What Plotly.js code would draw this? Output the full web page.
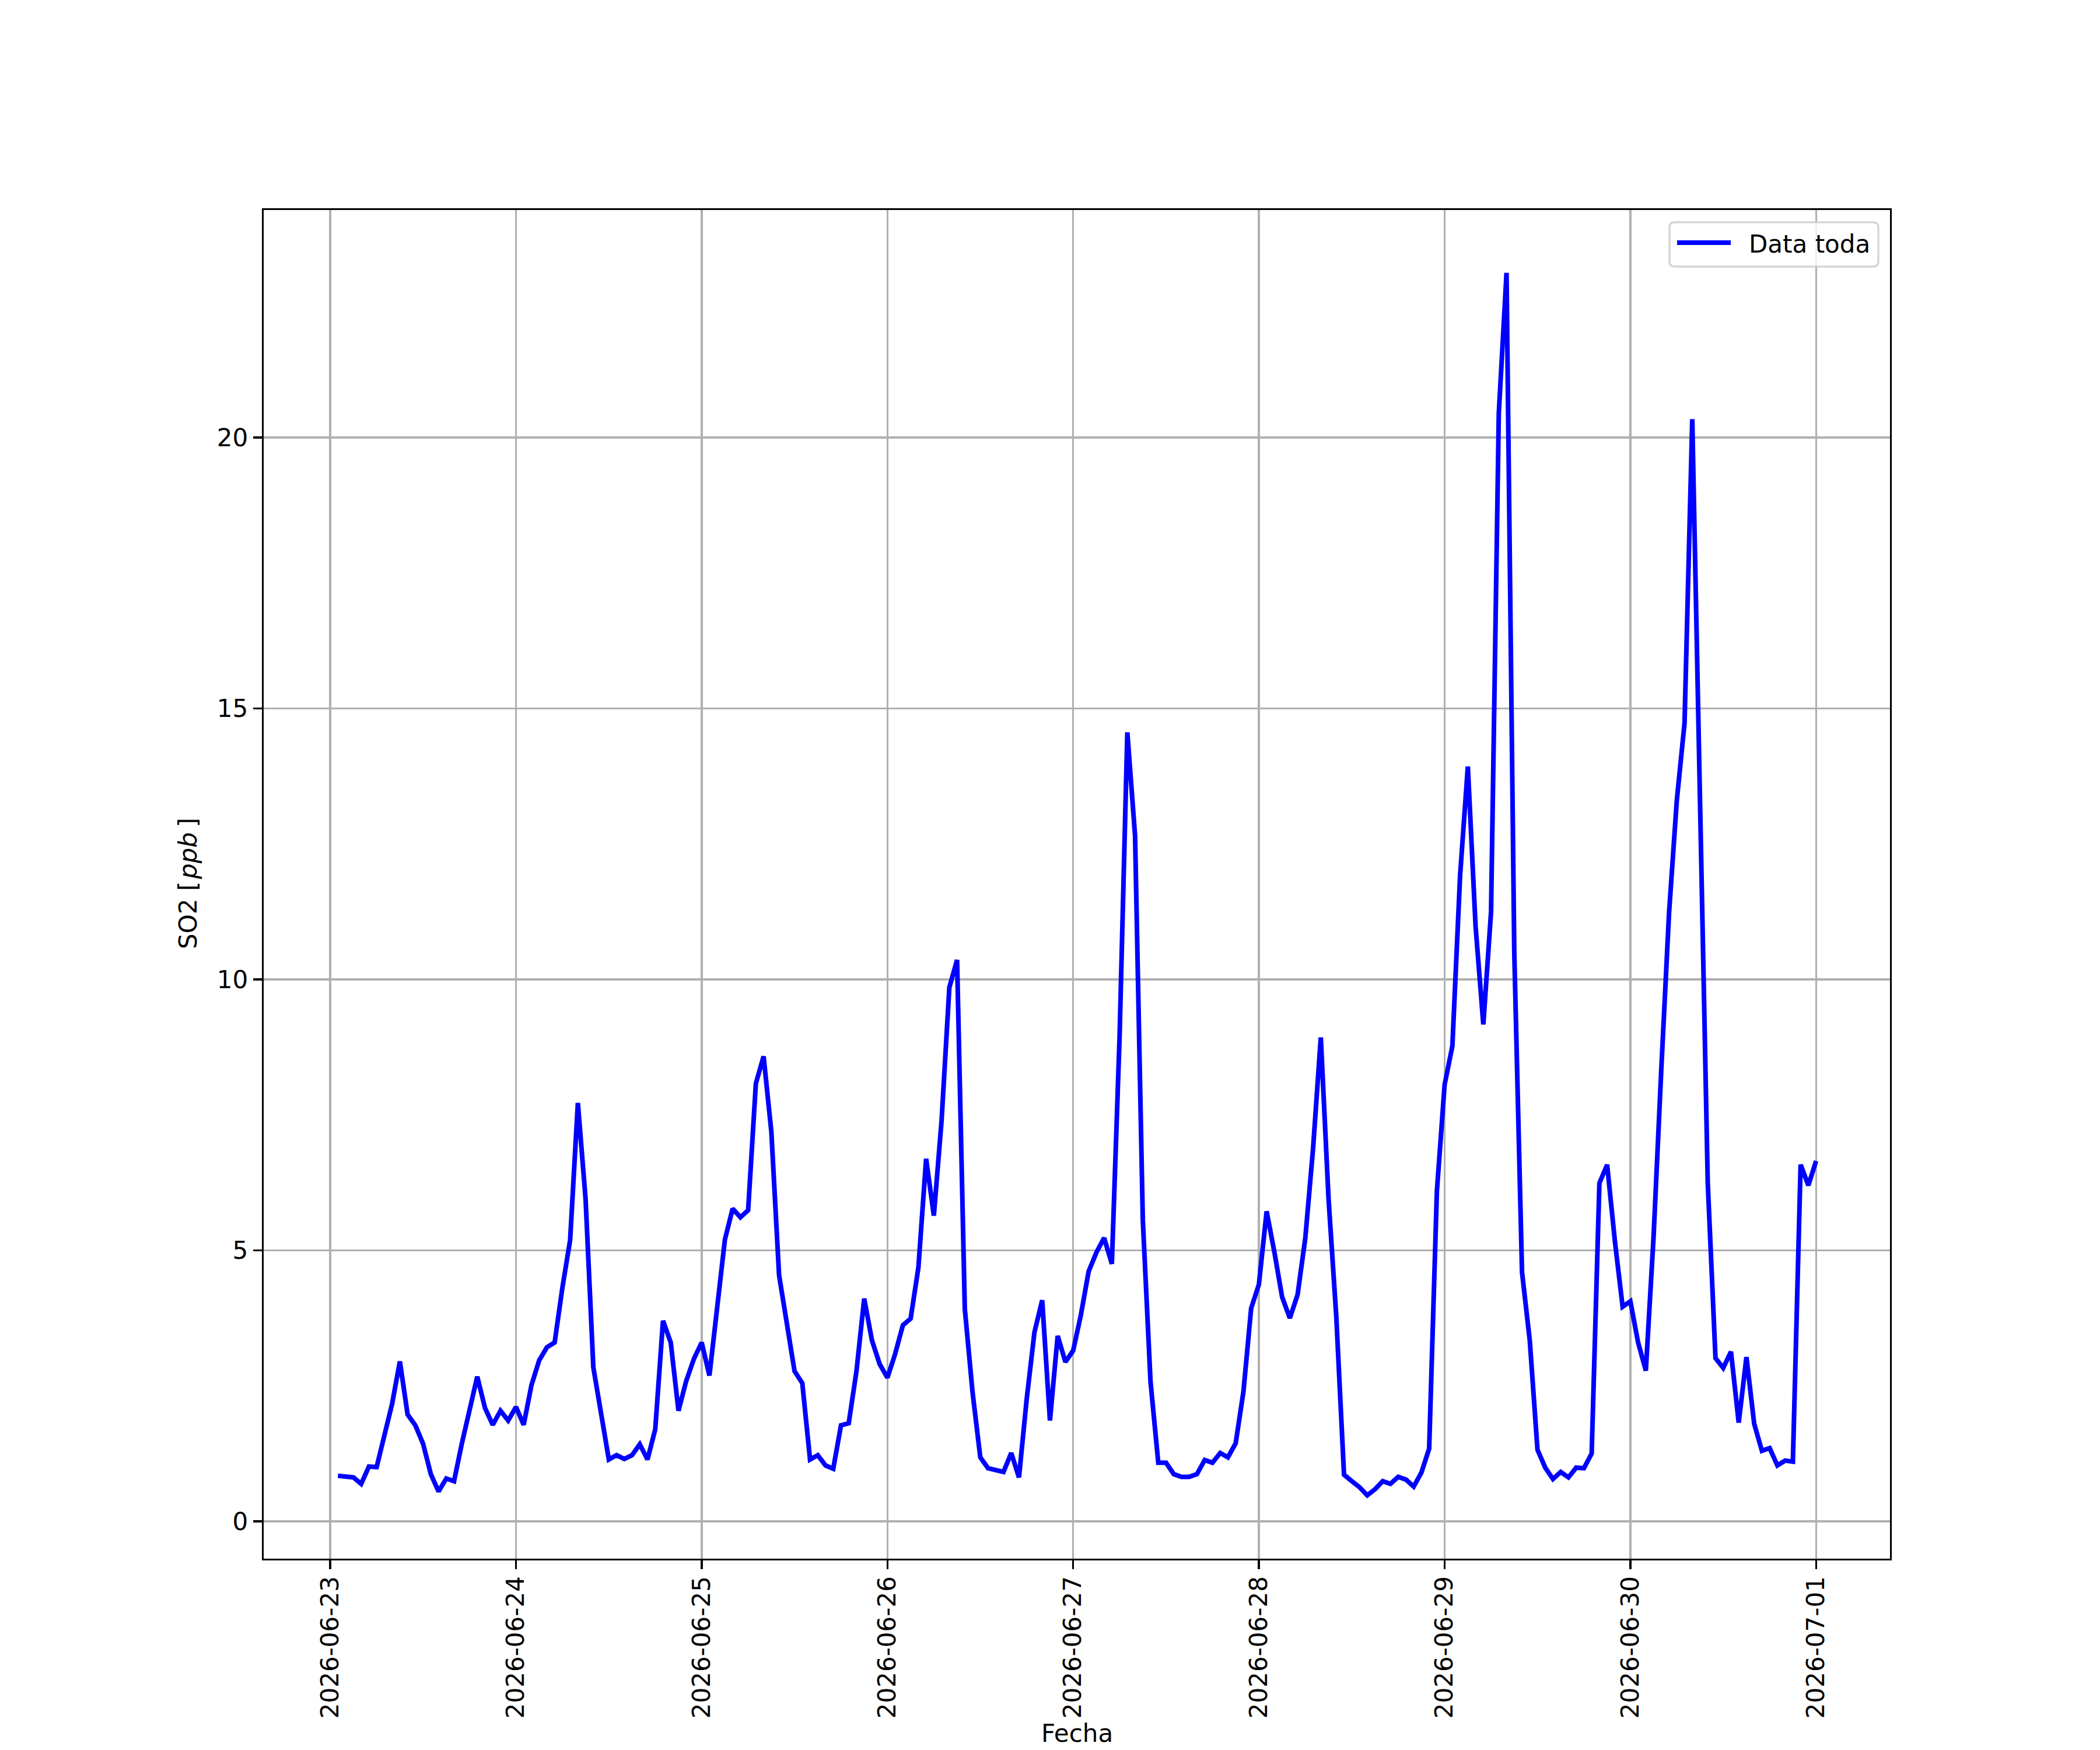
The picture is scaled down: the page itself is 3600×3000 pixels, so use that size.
<!DOCTYPE html>
<html>
<head>
<meta charset="utf-8">
<script src="https://cdn.plot.ly/plotly-3.0.1.min.js"></script>
<style>
  body { margin: 0; background: #fff; }
  #graph { width: 3600px; height: 3000px; }
</style>
</head>
<body>
<div id="graph"></div>
<script>
// hourly SO2 readings, 01:00 of each day through 00:00 of the next
const so2_0623 = [0.84, 0.82, 0.81, 0.69, 1.01, 1.0, 1.6, 2.17, 2.95, 1.97, 1.77, 1.43,
  0.87, 0.55, 0.79, 0.74, 1.43, 2.07, 2.67, 2.09, 1.78, 2.04, 1.86, 2.11];
const so2_0624 = [1.78, 2.51, 2.97, 3.21, 3.30, 4.31, 5.19, 7.72, 5.94, 2.84, 2.01, 1.14,
  1.22, 1.15, 1.22, 1.42, 1.14, 1.70, 3.70, 3.30, 2.04, 2.59, 3.00, 3.30];
const so2_0625 = [2.69, 3.97, 5.20, 5.77, 5.61, 5.74, 8.08, 8.58, 7.19, 4.54, 3.62, 2.77,
  2.55, 1.14, 1.22, 1.03, 0.97, 1.77, 1.81, 2.77, 4.11, 3.34, 2.90, 2.65];
const so2_0626 = [3.09, 3.62, 3.74, 4.68, 6.69, 5.64, 7.40, 9.85, 10.36, 3.92, 2.38, 1.18,
  0.98, 0.94, 0.91, 1.26, 0.81, 2.26, 3.49, 4.08, 1.86, 3.42, 2.94, 3.15];
const so2_0627 = [3.81, 4.61, 4.96, 5.23, 4.75, 8.95, 14.56, 12.65, 5.56, 2.57, 1.08, 1.08,
  0.87, 0.82, 0.82, 0.87, 1.13, 1.08, 1.26, 1.18, 1.44, 2.39, 3.93, 4.37];
const so2_0628 = [5.72, 4.97, 4.14, 3.75, 4.18, 5.23, 6.88, 8.93, 5.95, 3.78, 0.86, 0.74,
  0.63, 0.48, 0.59, 0.74, 0.69, 0.82, 0.77, 0.64, 0.90, 1.34, 6.09, 8.06];
const so2_0629 = [8.77, 11.92, 13.93, 10.98, 9.17, 11.25, 20.45, 23.04, 10.5, 4.6, 3.34, 1.32,
  0.99, 0.78, 0.91, 0.81, 0.99, 0.98, 1.25, 6.24, 6.58, 5.17, 3.96, 4.06];
const so2_0630 = [3.30, 2.78, 5.25, 8.35, 11.23, 13.3, 14.73, 20.34, 13.4, 6.25, 3.01, 2.83,
  3.13, 1.82, 3.03, 1.80, 1.30, 1.35, 1.03, 1.12, 1.10, 6.58, 6.20, 6.65];

const dayTicks = ["2026-06-23", "2026-06-24", "2026-06-25", "2026-06-26", "2026-06-27",
  "2026-06-28", "2026-06-29", "2026-06-30", "2026-07-01"];
const yTicks = [0, 5, 10, 15, 20];
const seriesName = "Data toda";

const values = [].concat(so2_0623, so2_0624, so2_0625, so2_0626,
  so2_0627, so2_0628, so2_0629, so2_0630);

// timestamps: one per hour starting 2026-06-23 01:00
const times = values.map((v, i) =>
  new Date(Date.UTC(2026, 5, 23, 1 + i)).toISOString().slice(0, 19).replace("T", " "));

const W = 3600, H = 3000;
const plotL = 452, plotR = 3240, plotT = 360, plotB = 2672;
const lineBlue = "#0000ff";
const font = { family: "DejaVu Sans", size: 42, color: "#000" };

// pixel -> paper helpers, used for the hand drawn legend box
function px(x) { return (x - plotL) / (plotR - plotL); }
function py(y) { return (plotB - y) / (plotB - plotT); }

function roundedBox(x0, y0, x1, y1, r) {
  const a = px(x0), b = px(x1), c = py(y0), d = py(y1);
  const rx = r / (plotR - plotL), ry = r / (plotB - plotT);
  return `M${a + rx},${c} L${b - rx},${c} Q${b},${c} ${b},${c - ry} ` +
    `L${b},${d + ry} Q${b},${d} ${b - rx},${d} L${a + rx},${d} ` +
    `Q${a},${d} ${a},${d + ry} L${a},${c - ry} Q${a},${c} ${a + rx},${c} Z`;
}

Plotly.newPlot("graph", [
  {
    x: times,
    y: values,
    mode: "lines",
    line: { color: lineBlue, width: 8 },
    name: seriesName,
  },
], {
  width: W,
  height: H,
  margin: { l: plotL, r: W - plotR, t: plotT, b: H - plotB },
  paper_bgcolor: "#fff",
  plot_bgcolor: "#fff",
  font: font,
  showlegend: false,
  xaxis: {
    type: "date",
    range: ["2026-06-22 15:24", "2026-07-01 09:33"],
    tickvals: dayTicks,
    ticktext: dayTicks,
    tickangle: -90,
    ticks: "outside",
    ticklen: 15,
    tickwidth: 3.3,
    tickcolor: "#000",
    ticklabelstandoff: -5,
    showline: true,
    mirror: true,
    linecolor: "#000",
    linewidth: 3.3,
    showgrid: true,
    gridcolor: "#b0b0b0",
    gridwidth: 3.3,
    zeroline: false,
    tickfont: font,
  },
  yaxis: {
    range: [-0.69, 24.2],
    tickvals: yTicks,
    ticks: "outside",
    ticklen: 15,
    tickwidth: 3.3,
    tickcolor: "#000",
    showline: true,
    mirror: true,
    linecolor: "#000",
    linewidth: 3.3,
    showgrid: true,
    gridcolor: "#b0b0b0",
    gridwidth: 3.3,
    zeroline: false,
    tickfont: font,
  },
  shapes: [
    {
      type: "path", xref: "paper", yref: "paper", layer: "above",
      path: roundedBox(2862, 381, 3220, 457, 9),
      fillcolor: "rgba(255,255,255,0.8)",
      line: { color: "rgba(204,204,204,0.8)", width: 3.5 },
    },
    {
      type: "line", xref: "paper", yref: "paper", layer: "above",
      x0: px(2875), x1: px(2967), y0: py(416), y1: py(416),
      line: { color: lineBlue, width: 8 },
    },
  ],
  annotations: [
    {
      text: seriesName, xref: "paper", yref: "paper", showarrow: false,
      x: px(2996), y: py(419), xanchor: "left", yanchor: "middle", font: font,
    },
    {
      text: "Fecha", xref: "paper", yref: "paper", showarrow: false,
      x: 0.5, y: py(2972), xanchor: "center", yanchor: "middle", font: font,
    },
    {
      text: "SO2 [\u200a<i>ppb</i>\u2009]", xref: "paper", yref: "paper", showarrow: false,
      x: px(322), y: py(1515), xanchor: "center", yanchor: "middle",
      textangle: -90, font: font,
    },
  ],
}, { staticPlot: true, displayModeBar: false });
</script>
</body>
</html>
